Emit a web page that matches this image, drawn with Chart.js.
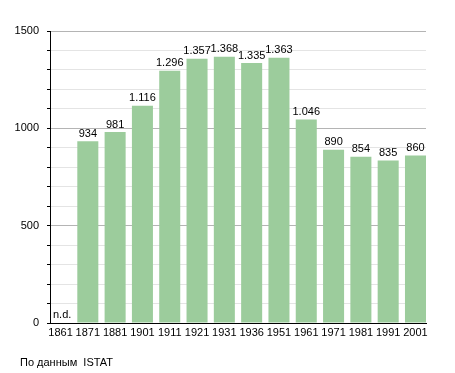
<!DOCTYPE html>
<html lang="ru">
<head>
  <meta charset="UTF-8" />
  <title>Population</title>
  <script src="https://cdn.jsdelivr.net/npm/chart.js"></script>
  <style>
    html, body { margin: 0; padding: 0; background: #fff; }
    #wrap { position: relative; width: 455px; height: 373px; }
  </style>
</head>
<body>
  <div id="wrap"><canvas id="popChart"></canvas></div>

  <script>
    const years = ["1861", "1871", "1881", "1901", "1911", "1921", "1931", "1936", "1951", "1961", "1971", "1981", "1991", "2001"];
    const population = [null, 934, 981, 1116, 1296, 1357, 1368, 1335, 1363, 1046, 890, 854, 835, 860];
    const yTicks = [0, 500, 1000, 1500];
    const missingLabel = "n.d.";
    const sourceNote = "По данным  ISTAT";

    const FONT = "'Liberation Sans', Arial, sans-serif";

    function fmt(v) {
      return String(v).replace(/\B(?=(\d{3})+(?!\d))/g, ".");
    }

    // labels above bars, n.d. and source line
    const labelsPlugin = {
      id: "labels",
      afterDatasetsDraw(chart) {
        const ctx = chart.ctx;
        const meta = chart.getDatasetMeta(0);
        const area = chart.chartArea;
        ctx.save();
        ctx.font = "11px " + FONT;
        ctx.fillStyle = "#000";
        ctx.textAlign = "center";
        ctx.textBaseline = "bottom";
        meta.data.forEach((bar, i) => {
          const v = population[i];
          if (v == null) {
            ctx.textAlign = "left";
            ctx.fillText(missingLabel, area.left + 3, area.bottom - 3);
            ctx.textAlign = "center";
          } else {
            ctx.fillText(fmt(v), bar.x, bar.y - 2);
          }
        });
        ctx.textAlign = "left";
        ctx.textBaseline = "alphabetic";
        ctx.fillText(sourceNote, 20, 366);
        ctx.restore();
      }
    };

    // bars sit flush with the left axis, last bar ends at the right edge
    const edge = 0.385;

    new Chart(document.getElementById("popChart"), {
      type: "bar",
      data: {
        datasets: [{
          data: population.map((v, i) => ({ x: i, y: v })),
          backgroundColor: "#9ccc9c",
          barPercentage: 0.77,
          categoryPercentage: 1
        }]
      },
      options: {
        responsive: true,
        maintainAspectRatio: false,
        animation: false,
        layout: { padding: { top: 31, right: 29, bottom: 30, left: 0 } },
        plugins: {
          legend: { display: false },
          tooltip: { enabled: false }
        },
        scales: {
          x: {
            type: "linear",
            offset: false,
            min: -edge,
            max: years.length - 1 + edge,
            grid: { display: false, drawTicks: false },
            border: { color: "#000", width: 1 },
            ticks: {
              color: "#000",
              font: { family: FONT, size: 11 },
              padding: 3,
              maxRotation: 0,
              autoSkip: false,
              callback: v => years[v] || ""
            },
            afterBuildTicks(scale) {
              scale.ticks = years.map((y, i) => ({ value: i }));
            },
            afterFit(scale) { scale.height = 20; }
          },
          y: {
            min: 0,
            max: 1500,
            border: { color: "#000", width: 1 },
            grid: {
              color: ctx => (ctx.tick && ctx.tick.value % 500 === 0) ? "#b4b4b4" : "#e4e4e4",
              tickColor: "#000",
              tickLength: 3
            },
            ticks: {
              stepSize: 100,
              color: "#000",
              font: { family: FONT, size: 11 },
              padding: 8,
              autoSkip: false,
              callback: v => yTicks.includes(v) ? String(v) : ""
            },
            afterFit(scale) { scale.width = 50; }
          }
        }
      },
      plugins: [labelsPlugin]
    });
  </script>
</body>
</html>
